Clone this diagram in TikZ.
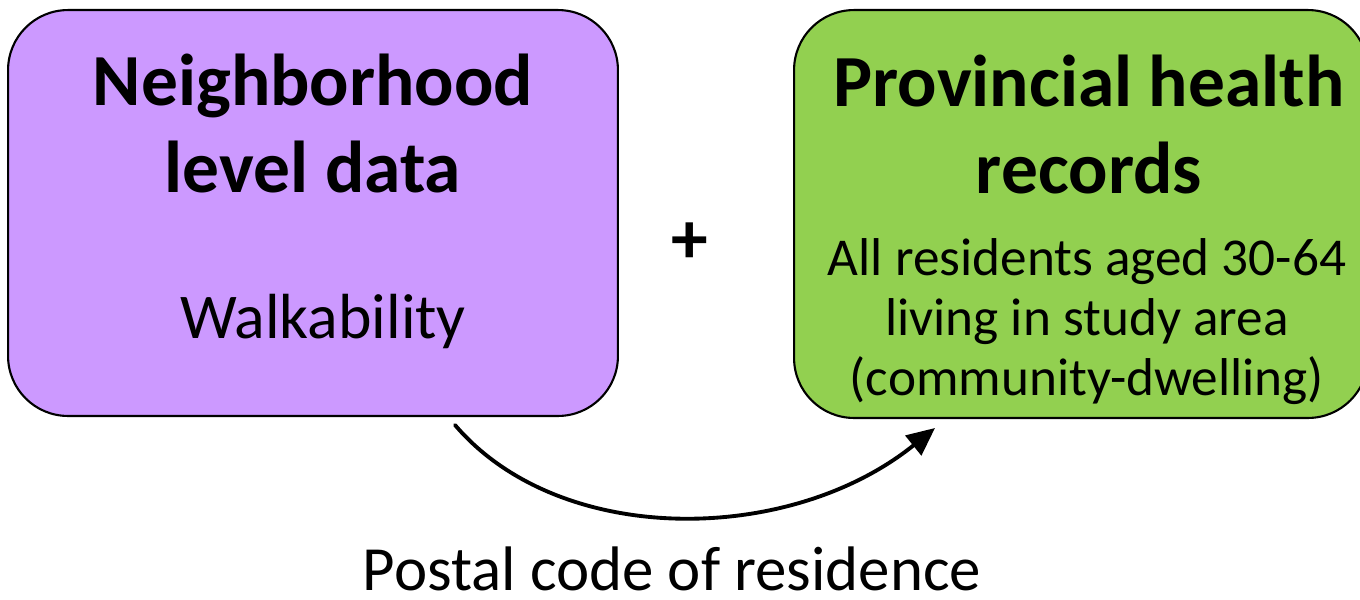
\documentclass[tikz,border=0pt]{standalone}
\usepackage{fontspec}
\setmainfont{Carlito}
\usepackage{tikz}
\usetikzlibrary{arrows.meta, calc, positioning}
\usepackage{xcolor}
\definecolor{lavender}{RGB}{204, 153, 255}
\definecolor{leafgreen}{RGB}{146, 208, 80}

\tikzset{
	databox/.style={draw=black, line width=1.2pt, rounded corners=1.2cm},
	headtext/.style={align=center, font=\fontsize{41.8}{49.3}\selectfont\bfseries},
	bodytext/.style={align=center, font=\fontsize{30.3}{34}\selectfont},
}

\begin{document}
\begin{tikzpicture}[line cap=round, line join=round, >=Triangle, x=0.02cm, y=-0.02cm]
	\useasboundingbox (0,0) rectangle (1360,599);
	
	% the two data sources
	\node[databox, fill=lavender, minimum width=12.2cm, minimum height=8.12cm] (nbhd) at (313,213) {};
	\node[databox, fill=leafgreen, minimum width=11.48cm, minimum height=8.16cm] (health) at (1081,214) {};
	
	% texts in the boxes (base = last line)
	\node[headtext, anchor=base] (nbhdtitle) at (313,192) {Neighborhood\\level data};
	\node[anchor=base, font=\fontsize{36.3}{40}\selectfont] (walk) at (323,338) {Walkability};
	\node[headtext, anchor=base] (healthtitle) at (1089,193) {Provincial health\\records};
	\node[bodytext, anchor=base] (residents) at (1087,395) {All residents aged 30-64\\living in study area\\(community-dwelling)};
	
	\node[headtext] (plus) at (690,243) {+};
	
	% linkage by postal code
	\coordinate (linkstart) at (455,425);
	\coordinate (linkend) at (935,428);
	\draw[-{Triangle[length=0.56cm, width=0.5cm]}, line width=2.2pt] (linkstart) .. controls (560,548) and (790,545) .. (linkend);
	\node[anchor=base, inner sep=0pt, font=\fontsize{35.8}{40}\selectfont] (postal) at (672,590) {Postal code of residence};
	
\end{tikzpicture}
\end{document}
